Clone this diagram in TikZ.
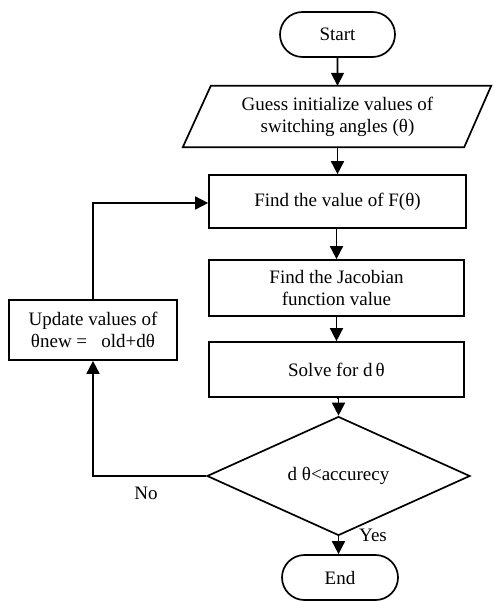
\documentclass[tikz,border=0pt]{standalone}
\usepackage{fontspec}
\setmainfont{Liberation Serif}
\usetikzlibrary{arrows.meta,shapes.geometric,shapes.misc}

\tikzset{
  base/.style={draw, line width=1.7pt, align=center, inner sep=0pt,
               font=\fontsize{19}{22}\selectfont},
  terminal/.style={base, rounded rectangle},
  procbox/.style={base, rectangle},
  decision/.style={base, diamond},
  flow/.style={line width=1.7pt, -{Triangle[width=13pt,length=13pt]}},
  plain/.style={line width=1.7pt},
  lbl/.style={font=\fontsize{19}{22}\selectfont, inner sep=0pt, align=center}
}

\begin{document}
\begin{tikzpicture}[x=1pt,y=-1pt]
  \useasboundingbox (0,0) rectangle (493,601);

  % main column
  \node[terminal, minimum width=115pt, minimum height=45pt] (start) at (337.5,34.5) {Start};

  % input block drawn as a slanted parallelogram around an invisible node
  \node[lbl, minimum width=281pt, minimum height=61pt] (guess) at (337.5,116.5)
       {Guess initialize values of\\switching angles (θ)};
  \draw[plain] ([xshift=-14pt]guess.south west) -- ([xshift=14pt]guess.north west)
               -- ([xshift=13pt]guess.north east) -- ([xshift=-14pt]guess.south east) -- cycle;

  \node[procbox, minimum width=257pt, minimum height=53pt] (ftheta) at (337.5,201.5)
       {Find the value of F(θ)};
  \node[procbox, minimum width=255pt, minimum height=56pt] (jacob) at (336.5,288)
       {Find the Jacobian\\function value};
  \node[procbox, minimum width=255pt, minimum height=55pt] (solve) at (336.5,369.5)
       {Solve for d\,θ};
  \node[decision, minimum width=263pt, minimum height=102pt] (check) at (338.5,476)
       {d θ<accurecy};
  \node[terminal, minimum width=116pt, minimum height=45pt] (stop) at (340,577.5) {End};

  % update block on the left
  \node[procbox, minimum width=168pt, minimum height=60pt] (update) at (93,330)
       {Update values of\\θnew =\ \ \ old+dθ};

  \coordinate (loopdown) at (93,476);
  \coordinate (loopup) at (93,203);

  % connectors
  \draw[flow] (start) -- (guess.north);
  \draw[flow] (guess.south) -- (guess.south |- ftheta.north);
  \draw[flow] (ftheta.south -| jacob.north) -- (jacob.north);
  \draw[flow] (jacob) -- (solve);
  \draw[flow] (solve.south) -- (solve.south -| check.north) -- (check.north);
  \draw[flow] (check.south) -- (check.south |- stop.north);
  \draw[flow] (check.west) -- (loopdown) -- (update.south);
  \draw[flow] (update.north) -- (loopup) -- (loopup -| ftheta.west);

  % branch labels
  \node[lbl] (yes) at (373,535) {Yes};
  \node[lbl] (no) at (146,493) {No};
\end{tikzpicture}
\end{document}
